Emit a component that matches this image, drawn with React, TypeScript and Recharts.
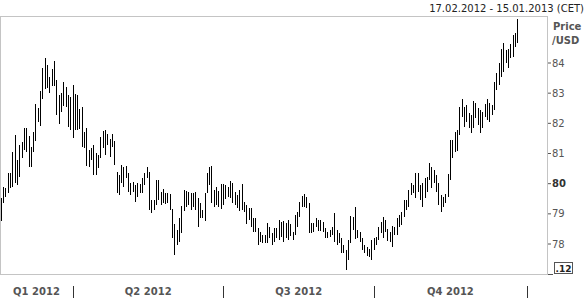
import React from "react";
import { ComposedChart, Bar, XAxis, YAxis } from "recharts";

if (typeof document !== "undefined") document.body.style.margin = "0";

// daily high / low prices (USD), one per trading day from 17.02.2012
const highs = [
  79.53, 79.89, 79.86, 80.35, 80.35, 81.05, 81.61, 80.78, 81.28, 81.38,
  81.85, 81.85, 81.58, 81.22, 81.71, 82.64, 82.51, 83.07, 83.83, 84.17,
  83.93, 83.54, 83.8, 84.07, 83.44, 82.94, 83.01, 83.37, 83.2, 82.94,
  82.87, 83.27, 82.97, 82.94, 82.48, 82.54, 81.71, 81.85, 81.12, 81.18,
  81.28, 81.02, 80.95, 81.55, 81.75, 81.78, 81.65, 81.48, 81.65, 81.41,
  80.39, 80.29, 80.62, 80.55, 80.59, 80.35, 80.02, 80.06, 79.96, 80.02,
  79.99, 80.19, 80.35, 80.55, 80.39, 79.46, 79.46, 80.12, 80.12, 79.72,
  79.82, 79.69, 79.69, 79.66, 79.16, 78.66, 78.46, 78.86, 79.26, 79.79,
  79.76, 79.72, 79.69, 79.69, 79.72, 79.53, 79.36, 79.13, 79.69, 80.35,
  80.55, 80.59, 79.79, 79.89, 79.76, 79.99, 79.99, 79.96, 79.89, 80.09,
  80.02, 79.72, 79.62, 79.79, 79.99, 79.39, 79.29, 79.19, 79.19, 78.86,
  78.86, 78.53, 78.4, 78.3, 78.3, 78.7, 78.56, 78.37, 78.53, 78.53,
  78.8, 78.73, 78.76, 78.7, 78.8, 78.66, 78.4, 78.96, 79.06, 79.39,
  79.59, 79.66, 79.56, 79.36, 78.7, 78.7, 78.86, 78.8, 78.8, 78.73,
  78.53, 78.4, 78.46, 78.56, 79.03, 78.46, 78.37, 78.2, 77.97, 77.8,
  78.13, 78.93, 78.9, 79.23, 78.46, 78.4, 78.2, 77.97, 77.9, 77.83,
  78.13, 78.2, 78.23, 78.56, 78.73, 78.9, 78.8, 78.5, 78.4, 78.6,
  78.56, 78.86, 78.96, 79.06, 79.46, 79.46, 79.79, 80.02, 79.96, 80.35,
  80.35, 79.96, 80.02, 80.19, 80.22, 80.69, 80.55, 80.45, 80.29, 80.02,
  79.62, 79.56, 79.66, 80.32, 81.45, 81.45, 81.71, 81.78, 82.54, 82.81,
  82.54, 82.61, 82.34, 82.28, 82.74, 82.67, 82.51, 82.44, 82.38, 82.64,
  82.81, 82.67, 82.61, 83.37, 83.67, 84.0, 84.46, 84.66, 84.43, 84.46,
  84.63, 84.93, 84.99, 85.46,
];

const lows = [
  78.76, 79.36, 79.56, 79.69, 79.86, 79.89, 80.02, 79.96, 80.22, 80.85,
  81.12, 81.05, 80.55, 80.55, 81.05, 81.41, 82.04, 81.91, 82.81, 83.14,
  83.17, 83.01, 83.24, 83.24, 82.28, 81.98, 82.38, 82.57, 82.54, 81.88,
  81.78, 81.51, 81.78, 81.78, 81.81, 81.22, 81.18, 80.59, 80.55, 80.78,
  80.29, 80.29, 80.52, 80.85, 81.18, 80.95, 81.28, 80.88, 81.22, 80.62,
  79.69, 79.62, 80.02, 79.89, 80.19, 79.72, 79.62, 79.72, 79.39, 79.56,
  79.69, 79.69, 79.96, 80.19, 79.13, 79.03, 79.13, 79.29, 79.46, 79.29,
  79.36, 79.33, 79.36, 79.13, 78.2, 77.64, 77.97, 78.07, 78.37, 79.09,
  79.23, 79.29, 79.13, 79.23, 79.13, 78.56, 78.86, 78.86, 78.76, 79.69,
  79.96, 79.36, 79.23, 79.29, 79.23, 79.16, 79.29, 79.49, 79.56, 79.53,
  79.36, 79.29, 79.19, 79.09, 79.13, 79.06, 78.66, 78.8, 78.56, 78.4,
  78.4, 77.97, 78.07, 78.03, 78.03, 78.03, 78.2, 77.97, 78.07, 78.2,
  78.13, 78.23, 78.07, 78.2, 78.13, 78.27, 78.13, 78.3, 78.56, 78.9,
  79.23, 79.23, 79.19, 78.37, 78.37, 78.4, 78.56, 78.43, 78.43, 78.4,
  78.2, 78.2, 78.23, 78.3, 78.07, 77.97, 78.03, 77.7, 77.7, 77.14,
  77.47, 78.03, 78.46, 78.17, 78.2, 78.07, 77.8, 77.7, 77.6, 77.57,
  77.47, 77.8, 77.97, 78.13, 78.37, 78.2, 78.4, 78.1, 78.07, 77.9,
  78.3, 78.3, 78.56, 78.63, 78.9, 79.13, 79.23, 79.62, 79.69, 79.53,
  79.72, 79.46, 79.23, 79.53, 79.72, 80.12, 79.86, 80.02, 79.72, 79.29,
  79.06, 79.23, 79.36, 79.56, 80.12, 80.85, 81.05, 81.08, 81.61, 82.21,
  81.88, 82.04, 81.85, 81.68, 81.85, 82.18, 81.94, 81.68, 81.85, 82.21,
  82.11, 82.04, 82.28, 82.44, 83.11, 83.27, 83.54, 83.7, 84.0, 83.83,
  84.17, 84.2, 84.53, 84.66,
];

const priceTicks = [78, 79, 80, 81, 82, 83, 84];
const quarterLabels = ["Q1 2012", "Q2 2012", "Q3 2012", "Q4 2012"];
// first day of each quarter after Q1 (year, month 0-based, day)
const quarterStartDates: [number, number, number][] = [
  [2012, 3, 1],
  [2012, 6, 1],
  [2012, 9, 1],
  [2013, 0, 1],
];

const startDate = Date.UTC(2012, 1, 17);
const endDate = Date.UTC(2013, 0, 15);

const X_MIN = -0.5;
const X_MAX = 235.7;
const Y_MIN = 77.006;
const Y_MAX = 85.558;

// trading days (Mon-Fri) of the period
const calendar: number[] = [];
for (let t = startDate; t <= endDate; t += 86400000) {
  const d = new Date(t).getUTCDay();
  if (d !== 0 && d !== 6) calendar.push(t);
}
const dayIndex = (y: number, m: number, d: number) =>
  calendar.findIndex((t) => t >= Date.UTC(y, m, d));

// ticks on the 1st and 16th of every month
const halfMonthTicks: number[] = [];
for (let k = 2; k <= 12; k++) {
  const y = 2012 + Math.floor(k / 12);
  const m = k % 12;
  [1, 16].forEach((d) => {
    const idx = dayIndex(y, m, d);
    if (idx >= 0 && idx <= X_MAX) halfMonthTicks.push(idx);
  });
}

const quarterBounds = quarterStartDates.map(([y, m, d]) => dayIndex(y, m, d));
const quarterCenters = quarterLabels.map((_, i) => {
  const a = i === 0 ? X_MIN : quarterBounds[i - 1];
  const b = quarterBounds[i];
  return (a + b) / 2;
});
const quarterTicks = [...quarterBounds, ...quarterCenters].sort((a, b) => a - b);

const data = highs.map((h, i) => ({ i, range: [lows[i], h] }));

const HighLowBar = (props: any) => {
  const { x, y, width, height } = props;
  if (x == null || y == null) return null;
  const cx = Math.floor(x + width / 2);
  const top = Math.round(Math.min(y, y + height));
  const bottom = Math.round(Math.max(y, y + height));
  return <rect x={cx} y={top} width={1} height={Math.max(1, bottom - top)} fill="#000" />;
};

const PriceTick = (props: any) => {
  const { x, y, payload } = props;
  const main = payload.value === 80;
  return (
    <text
      x={x}
      y={y}
      dy="0.355em"
      textAnchor="start"
      fontFamily="DejaVu Sans"
      fontSize={10}
      fontWeight={main ? "bold" : "normal"}
      fill={main ? "#333" : "#555"}
    >
      {payload.value}
    </text>
  );
};

const QuarterTick = (props: any) => {
  const { x, y, payload } = props;
  const b = quarterBounds.indexOf(payload.value);
  if (b >= 0) {
    const lx = Math.round(x) + 0.5;
    return <line x1={lx} x2={lx} y1={y + 12} y2={y + 24} stroke="#333" />;
  }
  const c = quarterCenters.indexOf(payload.value);
  if (c < 0) return null;
  return (
    <text
      x={x}
      y={y + 21}
      textAnchor="middle"
      fontFamily="DejaVu Sans"
      fontSize={10}
      fontWeight="bold"
      fill="#555"
    >
      {quarterLabels[c]}
    </text>
  );
};

export default function App() {
  return (
    <div style={{ position: "relative", width: 586, height: 306, background: "#fff" }}>
      <ComposedChart
        width={586}
        height={306}
        data={data}
        margin={{ top: 16, right: 0, bottom: 0, left: 0 }}
      >
        <XAxis
          xAxisId="t"
          dataKey="i"
          type="number"
          domain={[X_MIN, X_MAX]}
          ticks={halfMonthTicks}
          interval={0}
          allowDataOverflow
          height={6}
          tickSize={4}
          tick={false}
          axisLine={false}
          tickLine={{ stroke: "#555" }}
        />
        <XAxis
          xAxisId="q"
          dataKey="i"
          type="number"
          domain={[X_MIN, X_MAX]}
          ticks={quarterTicks}
          interval={0}
          allowDataOverflow
          height={26}
          tickSize={0}
          tickMargin={0}
          axisLine={false}
          tickLine={false}
          tick={<QuarterTick />}
        />
        <YAxis
          orientation="right"
          type="number"
          domain={[Y_MIN, Y_MAX]}
          ticks={priceTicks}
          interval={0}
          allowDataOverflow
          width={39}
          tickSize={4}
          tickMargin={1}
          axisLine={false}
          tickLine={{ stroke: "#555" }}
          tick={<PriceTick />}
        />
        <Bar xAxisId="t" dataKey="range" shape={<HighLowBar />} isAnimationActive={false} />
      </ComposedChart>
      <svg
        width={586}
        height={306}
        style={{ position: "absolute", left: 0, top: 0, pointerEvents: "none" }}
      >
        <g stroke="#c4c4c4" shapeRendering="crispEdges">
          <line x1={0} x2={548} y1={16.5} y2={16.5} />
          <line x1={0} x2={548} y1={274.5} y2={274.5} />
          <line x1={0.5} x2={0.5} y1={16} y2={275} />
          <line x1={547.5} x2={547.5} y1={16} y2={275} />
        </g>
        <text x={584} y={12} textAnchor="end" fontFamily="DejaVu Sans" fontSize={10} fill="#222">
          17.02.2012 - 15.01.2013 (CET)
        </text>
        <text x={553} y={30} fontFamily="DejaVu Sans" fontSize={10} fontWeight="bold" fill="#555">
          Price
        </text>
        <text x={552} y={44} fontFamily="DejaVu Sans" fontSize={10} fontWeight="bold" fill="#555">
          /USD
        </text>
        <line x1={548} x2={553} y1={274.5} y2={274.5} stroke="#555" shapeRendering="crispEdges" />
        <rect x={554.5} y={262.5} width={18} height={11} fill="#fff" stroke="#555" shapeRendering="crispEdges" />
        <text x={563.5} y={271.5} textAnchor="middle" fontFamily="DejaVu Sans" fontSize={9} fontWeight="bold" fill="#222">
          .12
        </text>
      </svg>
    </div>
  );
}
